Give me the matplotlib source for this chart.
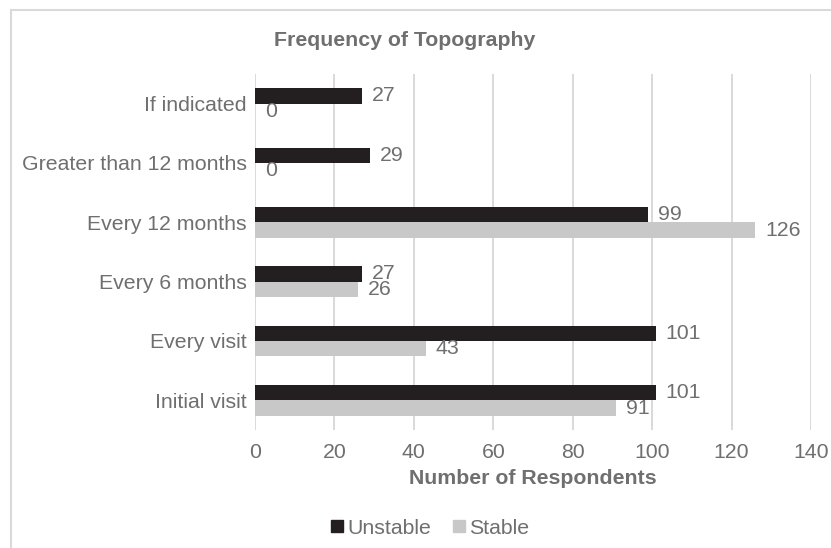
import matplotlib
matplotlib.use("Agg")
import matplotlib.pyplot as plt
from matplotlib.lines import Line2D
from matplotlib.patches import Rectangle
import numpy as np

plt.rcParams['font.family'] = ['Liberation Sans', 'DejaVu Sans']

categories = ['Initial visit', 'Every visit', 'Every 6 months', 'Every 12 months',
              'Greater than 12 months', 'If indicated']
unstable = [101, 101, 27, 99, 29, 27]
stable = [91, 43, 26, 126, 0, 0]
xticks = [0, 20, 40, 60, 80, 100, 120, 140]

txt_col = '#6f6f6f'
dark = '#231f20'
light = '#c8c8c8'
grid_col = '#d9d9d9'
fs = 15.3

W, H = 831, 548
fig = plt.figure(figsize=(W / 100, H / 100), dpi=100)
ax = fig.add_axes([255 / W, 1 - 430 / H, (811 - 255) / W, (430 - 74) / H])

y = np.arange(len(categories))
h = 0.26
b1 = ax.barh(y + h / 2, unstable, height=h, color=dark, label='Unstable', zorder=3)
b2 = ax.barh(y - h / 2, stable, height=h, color=light, label='Stable', zorder=3)
ax.bar_label(b1, padding=7, color=txt_col, fontsize=fs)
ax.bar_label(b2, padding=7, color=txt_col, fontsize=fs)

ax.set_xlim(0, 140)
ax.set_ylim(-0.5, len(categories) - 0.5)
ax.set_xticks(xticks)
ax.set_yticks(y)
ax.set_yticklabels(categories)
ax.tick_params(axis='both', length=0, labelsize=fs, labelcolor=txt_col)
ax.tick_params(axis='x', pad=9)
ax.tick_params(axis='y', pad=6)
ax.xaxis.grid(True, color=grid_col, lw=1.4, zorder=0)
ax.set_axisbelow(True)
for s in ax.spines.values():
    s.set_visible(False)

ax.set_xlabel('Number of Respondents', fontsize=fs, fontweight='bold', color=txt_col)
ax.xaxis.set_label_coords(0.5, (430 - 478) / (430 - 74))
ax.xaxis.label.set_va('center')

fig.text(404.5 / W, 1 - 40 / H, 'Frequency of Topography', ha='center', va='center',
         fontsize=fs, fontweight='bold', color=txt_col)

handles = [Line2D([], [], marker='s', ls='none', color=dark, markersize=8),
           Line2D([], [], marker='s', ls='none', color=light, markersize=8)]
fig.legend(handles, ['Unstable', 'Stable'], loc='center', bbox_to_anchor=(430 / W, 1 - 528 / H),
           ncol=2, frameon=False, fontsize=fs, labelcolor=txt_col, handlelength=0.6,
           handletextpad=0.2, columnspacing=1.0)

fig.patches.append(Rectangle((10.5 / W, -0.1), 1.2, 1 - 10.5 / H + 0.1, fill=False,
                             edgecolor=grid_col, lw=1.5, transform=fig.transFigure, figure=fig))

fig.savefig('out.png', dpi=100)
